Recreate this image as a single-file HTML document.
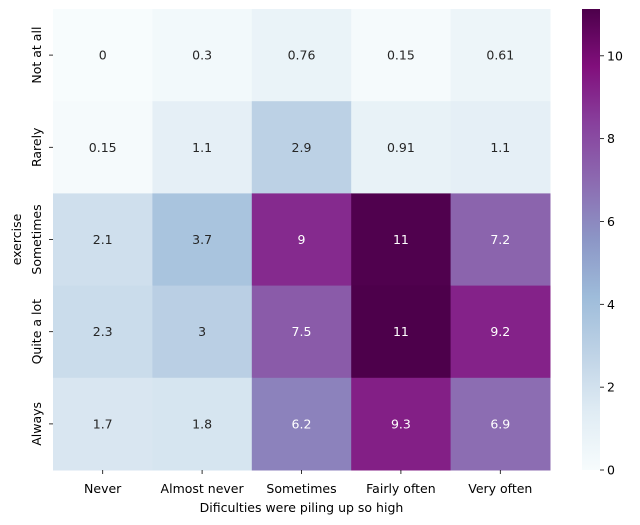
<!DOCTYPE html>
<html><head><meta charset="utf-8">
<style>
html,body{margin:0;padding:0;background:#fff;}
svg{display:block;font-family:"DejaVu Sans","Liberation Sans",sans-serif;}
</style></head>
<body>
<svg id="chart" width="640" height="525" viewBox="0 0 640 525"></svg>
<script>
const xCategories = ["Never","Almost never","Sometimes","Fairly often","Very often"];
const yCategories = ["Not at all","Rarely","Sometimes","Quite a lot","Always"];
const row0 = [0, 0.3, 0.76, 0.15, 0.61];
const row1 = [0.15, 1.1, 2.9, 0.91, 1.1];
const row2 = [2.1, 3.7, 9, 11.05, 7.2];
const row3 = [2.3, 3, 7.5, 11.13, 9.2];
const row4 = [1.7, 1.8, 6.2, 9.3, 6.9];
const values = [row0,row1,row2,row3,row4];
const colorbarTicks = [0,2,4,6,8,10];

const NS="http://www.w3.org/2000/svg";
const svg=document.getElementById('chart');
function mk(tag,attrs,parent){const e=document.createElementNS(NS,tag);for(const k in attrs)e.setAttribute(k,attrs[k]);(parent||svg).appendChild(e);return e;}
const L=53,R=550,T=9,B=470;
const FS='12.5';
const cw=(R-L)/xCategories.length, ch=(B-T)/yCategories.length;
const vmin=0, vmax=Math.max(...values.flat());
const stops=["#f7fcfd","#e0ecf4","#bfd3e6","#9ebcda","#8c96c6","#8c6bb1","#88419d","#810f7c","#4d004b"].map(h=>[parseInt(h.slice(1,3),16),parseInt(h.slice(3,5),16),parseInt(h.slice(5,7),16)]);
function cmapRGB(v){let t=(v-vmin)/(vmax-vmin);t=Math.max(0,Math.min(1,t));const p=t*(stops.length-1);const i=Math.min(Math.floor(p),stops.length-2);const f=p-i;return stops[i].map((c,k)=>Math.round(c+(stops[i+1][k]-c)*f));}
function rgbStr(c){return `rgb(${c[0]},${c[1]},${c[2]})`;}
function lum(c){const l=c.map(x=>{x/=255;return x<=0.03928?x/12.92:Math.pow((x+0.055)/1.055,2.4);});return 0.2126*l[0]+0.7152*l[1]+0.0722*l[2];}
function xPos(i){return L+i*cw;}
function yPos(j){return T+j*ch;}

values.forEach((row,j)=>row.forEach((v,i)=>{
  const c=cmapRGB(v);
  const r=mk('rect',{x:xPos(i),y:yPos(j),width:cw+0.5,height:ch+0.5,fill:rgbStr(c)});
  
  
  const t=mk('text',{x:xPos(i)+cw/2,y:yPos(j)+ch/2+4.5,'text-anchor':'middle','font-size':FS,fill:lum(c)>0.408?'#262626':'#ffffff'});
  t.textContent=String(parseFloat(v.toPrecision(2)));
  
  
}));

xCategories.forEach((name,i)=>{
  const cx=xPos(i)+cw/2;
  mk('line',{x1:cx,x2:cx,y1:B,y2:B+4,stroke:'#000','stroke-width':0.8});
  const t=mk('text',{x:cx,y:B+23,'text-anchor':'middle','font-size':FS,fill:'#000'});
  t.textContent=name;
  
  
});
yCategories.forEach((name,j)=>{
  const cy=yPos(j)+ch/2;
  mk('line',{x1:L-4,x2:L,y1:cy,y2:cy,stroke:'#000','stroke-width':0.8});
  const t=mk('text',{x:0,y:0,'text-anchor':'middle','font-size':FS,fill:'#000',transform:`translate(${L-12},${cy}) rotate(-90)`});
  t.textContent=name;
  
  
});
const xt=mk('text',{x:(L+R)/2,y:512,'text-anchor':'middle','font-size':FS,fill:'#000'});
xt.textContent='Dificulties were piling up so high';


const yt=mk('text',{x:0,y:0,'text-anchor':'middle','font-size':FS,fill:'#000',transform:`translate(21,${(T+B)/2}) rotate(-90)`});
yt.textContent='exercise';



// colorbar
const CL=582,CR=600;
const defs=mk('defs',{});
const grad=mk('linearGradient',{id:'cbg',x1:0,y1:1,x2:0,y2:0},defs);
stops.forEach((s,k)=>mk('stop',{offset:k/(stops.length-1),'stop-color':rgbStr(s)},grad));
const cb=mk('rect',{x:CL,y:T,width:CR-CL,height:B-T,fill:'url(#cbg)'});


function cbY(v){return B-(v-vmin)/(vmax-vmin)*(B-T);}
colorbarTicks.forEach(v=>{
  const y=cbY(v);
  mk('line',{x1:CR,x2:CR+4,y1:y,y2:y,stroke:'#000','stroke-width':0.8});
  const t=mk('text',{x:CR+7,y:y+4.5,'font-size':FS,fill:'#000'});
  t.textContent=String(v);
  
  
});
</script>
</body></html>
